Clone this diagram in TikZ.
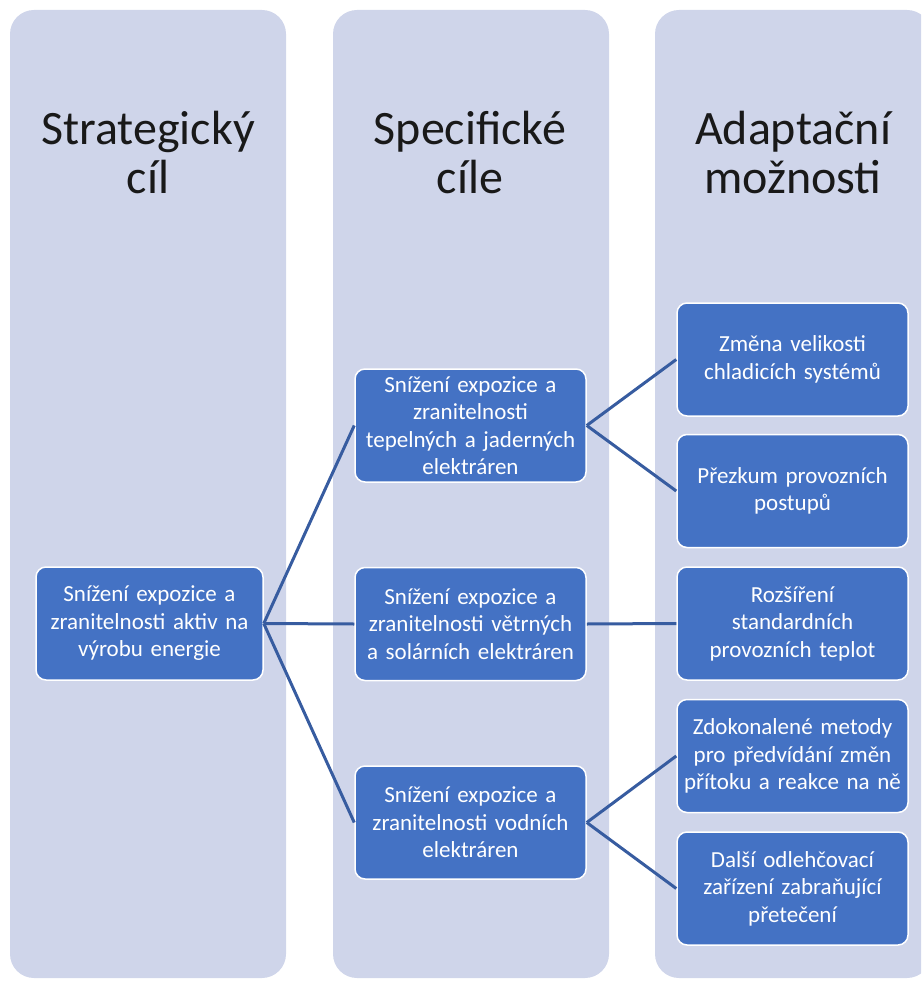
\documentclass[tikz,border=0pt]{standalone}
\usepackage{fontspec}
\setmainfont{Carlito}
\definecolor{colfill}{RGB}{207,213,234}
\definecolor{boxfill}{RGB}{68,114,196}
\definecolor{linecol}{RGB}{55,92,160}
\begin{document}
\begin{tikzpicture}[x=1pt,y=-1pt,
  column/.style={fill=colfill,rounded corners=24pt},
  title/.style={align=center,font=\fontsize{48}{49}\selectfont,text=black!90,inner sep=0pt},
  box/.style={draw=white,line width=1.5pt,fill=boxfill,rounded corners=10pt,
    text=white,align=center,minimum width=231pt,minimum height=113pt,
    text width=226pt,inner sep=0pt,font=\fontsize{23}{27.5}\selectfont},
  link/.style={draw=linecol,line width=3pt}]
\useasboundingbox (0,0) rectangle (921,981);
\begin{scope}
\clip (0,0) rectangle (921,981);
\fill[column] (10,10) rectangle (286,978);
\fill[column] (333,10) rectangle (609,978);
\fill[column] (655,10) rectangle (931,978);
\end{scope}
\node[title] (t1) at (148,153) {Strategický\\cíl};
\node[title] (t2) at (470,153) {Specifické\\cíle};
\node[title] (t3) at (793,153) {Adaptační\\možnosti};

\node[box,minimum width=227pt] (s) at (149.5,623.5) {Snížení expozice a\\zranitelnosti aktiv na\\výrobu energie};

\node[box] (m1) at (470.5,425.5) {Snížení expozice a\\zranitelnosti\\tepelných a jaderných\\elektráren};
\node[box] (m2) at (470.5,624) {Snížení expozice a\\zranitelnosti větrných\\a solárních elektráren};
\node[box] (m3) at (470.5,822.5) {Snížení expozice a\\zranitelnosti vodních\\elektráren};

\node[box] (r1) at (792.5,359.5) {Změna velikosti\\chladicích systémů};
\node[box] (r2) at (792.5,491) {Přezkum provozních\\postupů};
\node[box] (r3) at (792.5,623.5) {Rozšíření\\standardních\\provozních teplot};
\node[box] (r4) at (792.5,756) {Zdokonalené metody\\pro předvídání změn\\přítoku a reakce na ně};
\node[box] (r5) at (792.5,888.5) {Další odlehčovací\\zařízení zabraňující\\přetečení};

\draw[link] (s.east) -- (m1.west);
\draw[link] (s.east) -- (m2.west);
\draw[link] (s.east) -- (m3.west);
\draw[link] (m1.east) -- (r1.west);
\draw[link] (m1.east) -- (r2.west);
\draw[link] (m2.east) -- (r3.west);
\draw[link] (m3.east) -- (r4.west);
\draw[link] (m3.east) -- (r5.west);
\end{tikzpicture}
\end{document}
